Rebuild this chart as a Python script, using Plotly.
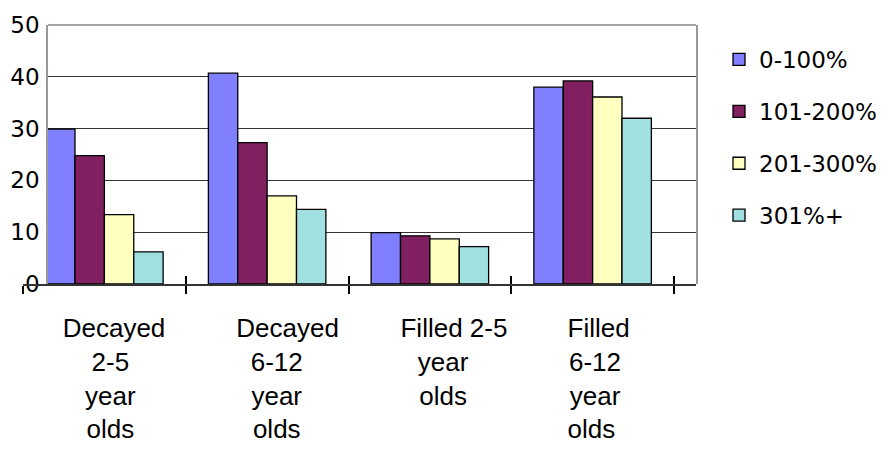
import plotly.graph_objects as go

# Share of children (%) by income band, for four dental outcomes
categories = [
    "Decayed 2-5 year olds",
    "Decayed 6-12 year olds",
    "Filled 2-5 year olds",
    "Filled 6-12 year olds",
]
category_labels = [
    ["\u00a0Decayed", "2-5", "year", "olds"],
    ["\u00a0\u00a0\u00a0\u00a0Decayed", "\u00a06-12", "\u00a0year", "\u00a0olds"],
    ["\u00a0\u00a0\u00a0\u00a0\u00a0Filled 2-5", "\u00a0\u00a0year", "\u00a0\u00a0olds"],
    ["Filled", "6-12\u00a0", "year\u00a0", "olds\u00a0\u00a0"],
]
series_names = ["0-100%", "101-200%", "201-300%", "301%+"]
values_0_100 = [29.9, 40.7, 9.9, 38.0]
values_101_200 = [24.8, 27.3, 9.3, 39.2]
values_201_300 = [13.4, 17.0, 8.7, 36.1]
values_301_plus = [6.2, 14.4, 7.2, 32.0]
series_values = [values_0_100, values_101_200, values_201_300, values_301_plus]

y_ticks = [0, 10, 20, 30, 40, 50]
y_ticktext = ["0", "10", "20", "30", "40", "50"]

colors = ["#8080FF", "#802060", "#FFFFC0", "#A0E0E0"]

# Page geometry (pixels)
W, H = 881, 464
AXIS_LEFT = 23          # where the category axis begins
PLOT_LEFT = 48          # left border of the plotting box
PLOT_RIGHT = 696        # right border of the plotting box
LAST_BOUNDARY = 674     # last category boundary tick
TOP, BOTTOM = 25, 284

n = len(categories)
cat_px = (LAST_BOUNDARY - AXIS_LEFT) / n
x2_range = [-0.5, -0.5 + (PLOT_RIGHT - AXIS_LEFT) / cat_px]
x_range = [-0.5 + (PLOT_LEFT - AXIS_LEFT) / cat_px, x2_range[1]]
paper_w = PLOT_RIGHT - AXIS_LEFT
x_domain_start = (PLOT_LEFT - AXIS_LEFT) / paper_w

fig = go.Figure()
for name, vals, col in zip(series_names, series_values, colors):
    fig.add_trace(go.Bar(
        name=name, x=categories, y=vals, legendgroup=name,
        marker=dict(color=col, line=dict(color="black", width=1.3)),
        xaxis="x", yaxis="y",
    ))

# empty trace that carries the category axis with the cross ticks and labels
fig.add_trace(go.Scatter(x=[None], y=[None], xaxis="x2", yaxis="y2",
                         showlegend=False, hoverinfo="skip", mode="markers"))

cat_font = dict(family="Liberation Sans, Arial, sans-serif", size=26, color="black")
num_font = dict(family="DejaVu Sans, sans-serif", size=23, color="black")

fig.update_layout(
    width=W, height=H, autosize=False,
    margin=dict(l=AXIS_LEFT, r=W - PLOT_RIGHT, t=TOP, b=H - BOTTOM, pad=0,
                autoexpand=False),
    paper_bgcolor="white", plot_bgcolor="rgba(0,0,0,0)",
    barmode="group", bargap=0.278, bargroupgap=0,
    xaxis=dict(
        domain=[x_domain_start, 1], range=x_range, type="category",
        showticklabels=False, ticks="inside", tickson="boundaries",
        ticklen=8, tickwidth=1.5, tickcolor="black",
        showgrid=False, showline=False, zeroline=False, fixedrange=True,
    ),
    yaxis=dict(
        domain=[0, 1], range=[0, 50], tickmode="array",
        tickvals=y_ticks, ticktext=y_ticktext, tickfont=num_font,
        ticks="", ticklabelstandoff=2,
        showgrid=True, gridcolor="#333333", gridwidth=1.3,
        showline=True, linecolor="#999999", linewidth=1.5, mirror=True,
        zeroline=False, fixedrange=True,
    ),
    xaxis2=dict(
        domain=[0, 1], anchor="y2", type="linear", range=x2_range,
        tickmode="array", tickvals=list(range(n)),
        ticktext=["<br>".join(lines) for lines in category_labels],
        tickfont=cat_font, ticks="", ticklabelstandoff=20, ticklabelshift=6,
        minor=dict(tickvals=[i - 0.5 for i in range(n + 1)], ticks="outside",
                   ticklen=8, tickwidth=1.5, tickcolor="black", showgrid=False),
        showline=True, linecolor="#333333", linewidth=1.5,
        showgrid=False, zeroline=False, fixedrange=True,
    ),
    yaxis2=dict(domain=[0, 1], anchor="x2", range=[0, 50], visible=False,
                showgrid=False, fixedrange=True),
    legend=dict(
        x=(719 - AXIS_LEFT) / paper_w, y=1 - (38 - TOP) / (BOTTOM - TOP),
        xanchor="left", yanchor="top", font=num_font,
        tracegroupgap=19, bgcolor="rgba(0,0,0,0)",
    ),
    shapes=[dict(type="line", xref="x domain", yref="y domain",
                 x0=0, x1=1, y0=1, y1=1, line=dict(color="#888888", width=1.5))],
    showlegend=True,
)

fig.write_html("out.html")
